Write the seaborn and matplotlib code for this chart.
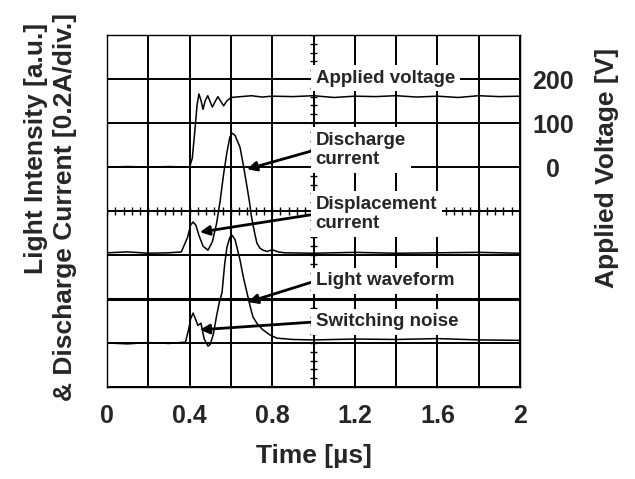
import matplotlib
matplotlib.use("Agg")
import matplotlib.pyplot as plt
import numpy as np
import seaborn as sns

# oscilloscope traces (time in us)
# applied voltage, in volts (right axis)
volt_t = [0, 0.1, 0.2, 0.3, 0.40, 0.413, 0.425, 0.436, 0.445, 0.455, 0.465,
          0.475, 0.488, 0.50, 0.51, 0.525, 0.537, 0.55, 0.565, 0.58, 0.60,
          0.65, 0.7, 0.75, 0.8, 0.9, 1.0, 1.1, 1.2, 1.3, 1.4, 1.5, 1.6, 1.7,
          1.8, 1.9, 2.0]
volt_v = [0, 1, 0, 1, 0, 20, 80, 140, 166, 152, 131, 150, 162, 148, 136, 150,
          160, 150, 139, 150, 158, 160, 162, 159, 161, 160, 162, 158, 161, 160,
          162, 159, 161, 158, 162, 160, 161]

# discharge + displacement current, in divisions
cur_t = [0, 0.1, 0.2, 0.3, 0.36, 0.39, 0.405, 0.417, 0.43, 0.445, 0.465,
         0.489, 0.51, 0.53, 0.547, 0.565, 0.581, 0.595, 0.605, 0.62, 0.644,
         0.66, 0.678, 0.69, 0.70, 0.715, 0.726, 0.74, 0.755, 0.775, 0.80,
         0.83, 0.86, 1.0, 1.2, 1.4, 1.6, 1.8, 2.0]
cur_v = [3.05, 3.07, 3.04, 3.05, 3.07, 3.4, 3.68, 3.75, 3.68, 3.45, 3.2,
         3.11, 3.3, 3.7, 4.2, 4.85, 5.34, 5.68, 5.77, 5.72, 5.45, 5.05, 4.55,
         4.2, 3.86, 3.5, 3.27, 3.16, 3.11, 3.08, 3.12, 3.07, 3.05, 3.04, 3.06,
         3.04, 3.05, 3.06, 3.04]

# light waveform, in divisions
light_t = [0, 0.1, 0.2, 0.3, 0.38, 0.395, 0.405, 0.417, 0.428, 0.44, 0.455,
           0.47, 0.489, 0.50, 0.515, 0.53, 0.545, 0.557, 0.57, 0.581, 0.595,
           0.605, 0.62, 0.644, 0.66, 0.678, 0.695, 0.707, 0.73, 0.755, 0.79,
           0.823, 0.9, 1.0, 1.2, 1.4, 1.6, 1.8, 2.0]
light_v = [1.0, 0.98, 1.01, 0.99, 1.02, 1.3, 1.55, 1.68, 1.55, 1.4, 1.45,
           1.1, 0.93, 0.97, 1.2, 1.6, 1.95, 2.14, 2.8, 3.18, 3.4, 3.45, 3.35,
           2.89, 2.5, 2.14, 1.8, 1.59, 1.42, 1.30, 1.18, 1.11, 1.08, 1.07,
           1.09, 1.08, 1.1, 1.07, 1.06]

x_ticks = [0, 0.4, 0.8, 1.2, 1.6, 2]
x_tick_labels = ["0", "0.4", "0.8", "1.2", "1.6", "2"]
volt_ticks = [0, 100, 200]

# label text, anchor (div) and arrow tip (t, div) or None
labels = ["Applied voltage", "Discharge\ncurrent", "Displacement\ncurrent",
          "Light waveform", "Switching noise"]
label_y = [7.02, 5.39, 3.93, 2.41, 1.48]
arrow_tips = [None, (0.678, 4.95), (0.45, 3.52), (0.683, 1.93), (0.45, 1.30)]

sns.set_style("white")
plt.rcParams["font.family"] = ["Liberation Sans", "DejaVu Sans"]
plt.rcParams["font.weight"] = "bold"

fig = plt.figure(figsize=(6.35, 4.79), dpi=100)
ax = fig.add_axes([107 / 635, 1 - 387 / 479, 413 / 635, 352 / 479])

ax.set_xlim(0, 2)
ax.set_ylim(0, 8)
ax.set_xticks(x_ticks)
ax.set_xticklabels(x_tick_labels, fontsize=18, fontweight="bold")
ax.set_xticks(np.arange(0.2, 2.0, 0.4), minor=True)
ax.set_yticks(range(9))
ax.set_yticklabels([])
ax.tick_params(which="both", length=0)
ax.tick_params(axis="x", pad=12)
ax.grid(which="both", color="black", lw=1.4)
ax.set_axisbelow(True)
for s in ax.spines.values():
    s.set_color("black")
    s.set_linewidth(1.0)

# darker line at 2 div
ax.axhline(2, color="black", lw=2.2, zorder=1)

# graticule ticks on the centre lines
ax.vlines(np.arange(0, 2.001, 0.04), 3.92, 4.08, color="black", lw=1.0, zorder=1)
ax.hlines(np.arange(0, 8.001, 0.2), 0.985, 1.015, color="black", lw=1.0, zorder=1)

sns.lineplot(x=cur_t, y=cur_v, ax=ax, color="black", lw=1.1, sort=False,
             estimator=None, zorder=2)
sns.lineplot(x=light_t, y=light_v, ax=ax, color="black", lw=1.1, sort=False,
             estimator=None, zorder=2)

ax2 = ax.twinx()
ax2.set_ylim(-500, 300)
ax2.set_yticks(volt_ticks)
ax2.set_yticklabels([str(v) for v in volt_ticks], fontsize=18, fontweight="bold")
ax2.tick_params(length=0, pad=24)
plt.setp(ax2.get_yticklabels(), ha="center")
for s in ax2.spines.values():
    s.set_visible(False)
sns.lineplot(x=volt_t, y=volt_v, ax=ax2, color="black", lw=1.1, sort=False,
             estimator=None)
ax2.set_xlim(0, 2)

for text, y, tip in zip(labels, label_y, arrow_tips):
    box = dict(boxstyle="square,pad=0.25", fc="white", ec="none")
    if tip is None:
        ax2.text(1.01, (y - 5) * 100, text, ha="left", va="center",
                 fontsize=13.5, fontweight="bold", bbox=box, zorder=5)
    else:
        ax2.annotate(text, xy=(tip[0], (tip[1] - 5) * 100),
                     xytext=(1.01, (y - 5) * 100), ha="left", va="center",
                     fontsize=13.5, fontweight="bold", linespacing=1.15,
                     bbox=box, zorder=5,
                     arrowprops=dict(arrowstyle="-|>", color="black", lw=2,
                                     mutation_scale=14, relpos=(0, 0.5),
                                     shrinkA=0, shrinkB=0))

ax.set_xlabel("Time [µs]", fontsize=19, fontweight="bold", labelpad=12)
ax.set_ylabel("")
ax2.set_ylabel("")

fig.text(36 / 635, 1 - 23 / 479, "Light Intensity [a.u.]", rotation=90,
         ha="center", va="top", fontsize=19, fontweight="bold")
fig.text(65 / 635, 1 - 13 / 479, "& Discharge Current [0.2A/div.]", rotation=90,
         ha="center", va="top", fontsize=19, fontweight="bold")
fig.text(607 / 635, 1 - 168 / 479, "Applied Voltage [V]", rotation=90,
         ha="center", va="center", fontsize=19, fontweight="bold")

fig.savefig("out.png", dpi=100)
